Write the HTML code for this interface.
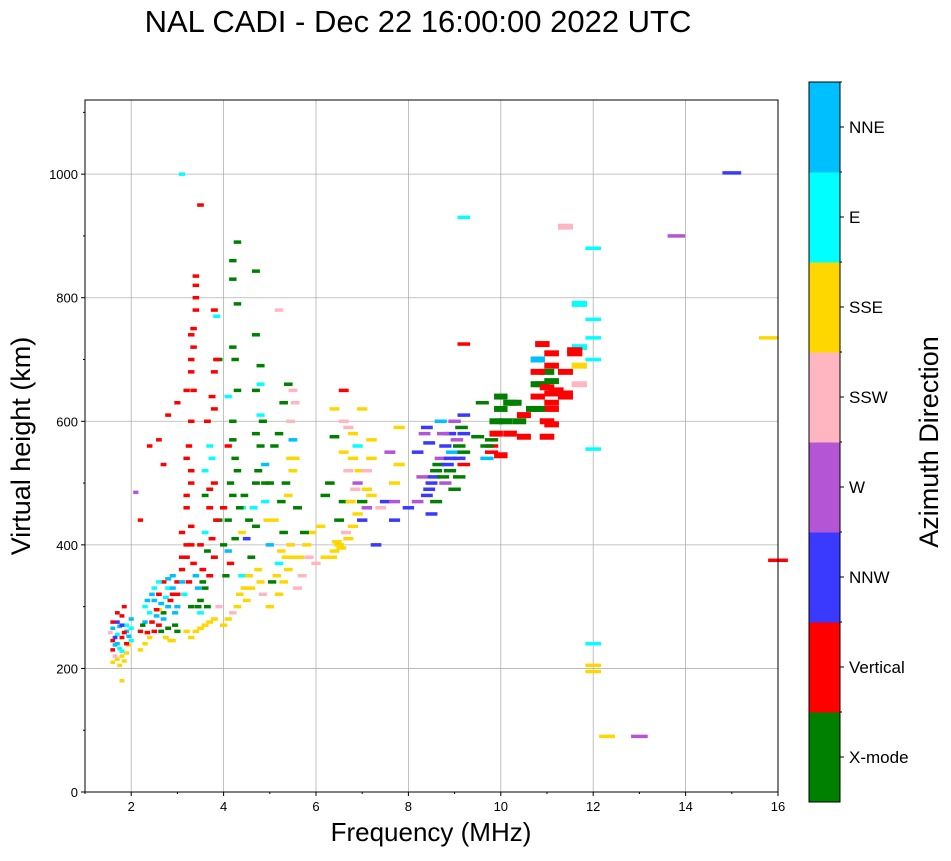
<!DOCTYPE html>
<html><head><meta charset="utf-8"><style>
body{margin:0;background:#fff;}
svg text{font-family:"Liberation Sans","DejaVu Sans",sans-serif;}
</style></head><body>
<svg id="chart" width="951" height="856" xmlns="http://www.w3.org/2000/svg">
<rect width="951" height="856" fill="#fff"/>
<text x="418" y="32" font-size="31" text-anchor="middle">NAL CADI - Dec 22 16:00:00 2022 UTC</text>
<g id="grid"></g>
<g id="marks"></g>
<rect x="85" y="100" width="693" height="692" fill="none" stroke="#000" stroke-width="1"/>
<g id="axes"></g>
<text x="431" y="841" font-size="26" text-anchor="middle">Frequency (MHz)</text>
<text transform="translate(30,446) rotate(-90)" font-size="27" text-anchor="middle">Virtual height (km)</text>
<g id="cbar"></g>
<text transform="translate(938,442) rotate(-90)" font-size="27" text-anchor="middle">Azimuth Direction</text>
</svg>
<script>
const dirLabels=["X-mode","Vertical","NNW","W","SSW","SSE","E","NNE"];
const dirColors=["#008000","#ff0000","#3a3aff","#b355d4","#ffb6c1","#ffd700","#00ffff","#00bfff"];
const xTicks=[2,4,6,8,10,12,14,16];
const yTicks=[0,200,400,600,800,1000];
const pts=("1.6,210,5;1.7,215,5;1.8,220,5;1.9,225,5;1.6,230,1;1.7,240,7;1.8,250,1;1.9,260,7;1.6,265,7;1.7,275,2;1.8,285,1;1.9,270,6;2.0,245,6;2.0,280,7;1.7,255,6;1.6,245,1;1.85,300,1;1.75,232,6;1.95,238,5;1.65,220,4;"+
"1.55,258,4;1.65,250,2;1.75,268,7;1.85,258,1;1.95,252,7;1.6,275,1;1.7,290,1;1.8,270,2;1.9,240,1;2.0,265,6;1.75,205,5;1.85,212,5;1.65,238,7;1.8,228,6;"+
"2.2,230,5;2.3,240,5;2.4,250,5;2.5,260,1;2.6,270,1;2.7,280,7;2.8,300,7;2.9,320,1;3.0,340,1;2.2,260,1;2.3,275,7;2.4,290,6;2.5,310,7;2.6,320,1;2.7,290,0;2.8,265,0;2.9,245,5;3.0,260,0;2.5,330,6;2.7,340,1;2.9,350,7;2.3,300,6;2.6,295,5;2.8,330,6;3.0,300,7;2.4,560,1;2.6,570,1;2.7,530,1;2.2,440,1;2.8,610,1;"+
"2.25,270,0;2.35,258,1;2.45,275,1;2.55,285,7;2.65,305,7;2.75,315,6;2.85,310,1;2.95,290,7;2.35,310,7;2.45,320,7;2.55,295,1;2.65,260,0;2.75,250,5;2.85,245,5;2.95,270,0;2.9,330,7;3.0,320,1;2.8,345,7;2.6,340,6;"+
"3.1,360,1;3.2,380,1;3.3,400,1;3.1,420,1;3.2,460,1;3.3,500,1;3.2,540,1;3.3,600,1;3.2,650,1;3.3,700,1;3.3,740,1;3.4,780,1;3.4,820,1;3.4,835,1;3.5,950,1;3.1,1000,6;3.2,260,5;3.3,250,5;3.4,260,5;3.5,265,5;3.6,270,5;3.7,275,5;3.8,280,5;3.3,300,0;3.5,310,0;3.6,330,0;3.7,350,1;3.8,380,1;3.6,420,6;3.7,460,1;3.8,500,1;3.7,560,6;3.8,620,1;3.8,680,1;3.8,780,1;3.4,350,7;3.5,400,1;3.6,520,6;3.9,700,0;3.9,440,0;3.5,290,6;3.9,300,4;"+
"3.1,380,1;3.2,400,1;3.3,430,1;3.2,480,1;3.3,520,1;3.25,560,1;3.35,650,1;3.3,680,1;3.35,720,1;3.35,750,1;3.4,800,1;3.1,340,7;3.15,320,6;3.25,340,1;3.35,370,1;3.45,330,7;3.55,360,1;3.65,390,0;3.75,410,1;3.85,440,1;3.7,490,1;3.6,480,0;3.75,540,6;3.65,600,1;3.75,640,1;3.85,700,1;3.85,770,6;3.45,300,0;3.55,340,0;3.65,300,0;"+
"4.0,270,5;4.1,280,5;4.2,290,4;4.3,300,5;4.5,310,5;4.6,330,5;4.8,340,5;4.0,400,0;4.1,440,0;4.2,480,0;4.3,520,0;4.2,600,0;4.2,720,0;4.3,790,0;4.3,890,0;4.2,860,0;4.2,830,0;4.1,390,7;4.4,350,6;4.6,380,0;4.7,430,0;4.7,500,0;4.7,580,0;4.7,650,0;4.7,740,0;4.7,843,0;4.4,460,6;4.5,410,2;4.8,690,0;4.9,470,6;4.9,530,7;4.8,610,6;4.1,640,6;4.1,560,1;4.0,460,1;4.4,420,5;"+
"4.05,350,0;4.15,370,1;4.25,410,0;4.15,500,0;4.25,540,0;4.2,570,0;4.3,650,0;4.25,700,0;4.35,460,0;4.45,480,0;4.55,440,0;4.65,460,6;4.75,520,0;4.8,560,0;4.85,600,0;4.8,660,6;4.9,500,0;4.95,440,5;4.35,320,5;4.45,330,5;4.55,350,5;4.75,360,5;4.85,320,4;"+
"5.0,300,5;5.2,320,5;5.3,340,5;5.4,360,5;5.5,380,5;5.6,330,4;5.7,350,4;5.1,560,0;5.2,580,0;5.0,400,7;5.3,420,0;5.4,480,5;5.5,520,5;5.5,570,7;5.5,650,4;5.4,660,0;5.1,440,5;5.2,370,6;5.8,400,5;5.9,420,5;5.0,500,0;5.3,630,0;5.6,460,0;5.2,780,4;"+
"5.05,340,0;5.15,350,5;5.25,390,5;5.35,380,5;5.45,400,5;5.55,540,5;5.45,600,4;5.55,630,4;5.25,470,0;5.35,500,0;5.45,540,5;5.65,380,5;5.75,420,0;5.85,380,4;"+
"6.0,370,4;6.2,380,5;6.4,390,5;6.5,400,5;6.7,410,5;6.8,430,5;6.9,450,5;6.5,440,0;6.6,470,0;6.7,520,4;6.8,540,5;6.6,600,4;6.6,650,1;6.4,620,5;6.9,560,6;6.3,500,0;6.2,480,0;6.9,500,3;6.1,430,5;6.8,580,5;6.4,575,0;7.0,620,5;"+
"6.45,405,5;6.55,395,5;6.65,420,4;6.75,470,5;6.85,490,4;6.95,520,5;6.6,550,5;6.7,590,4;6.35,380,5;"+
"7.0,440,2;7.1,460,3;7.2,480,5;7.1,520,4;7.2,540,5;7.4,460,4;7.5,470,2;7.7,470,3;7.7,440,2;7.8,530,5;7.7,500,5;7.3,400,2;7.6,550,3;7.8,590,5;7.1,490,5;7.2,570,5;7.0,470,0;"+
"8.0,460,2;8.2,470,3;8.4,480,2;8.5,500,2;8.6,520,0;8.7,540,3;8.8,560,2;8.9,580,2;8.4,590,2;8.6,470,0;8.8,500,3;8.9,520,0;8.5,450,2;8.3,510,3;8.7,600,7;8.9,540,2;8.2,550,2;"+
"8.45,490,2;8.55,510,2;8.65,530,0;8.75,510,0;8.85,530,2;8.95,550,7;8.45,565,2;8.35,580,3;8.75,580,3;"+
"9.0,490,0;9.1,510,0;9.2,530,1;9.1,560,0;9.2,580,2;9.0,600,3;9.2,610,2;9.7,540,7;9.8,560,1;9.9,580,1;9.8,570,0;9.9,600,0;10.0,620,0;10.0,640,0;9.6,630,0;9.2,725,1;9.2,930,6;9.5,575,0;10.0,545,1;"+
"9.1,540,2;9.15,590,0;9.05,570,3;9.2,550,0;9.7,560,0;9.8,550,1;10.1,600,0;10.2,630,0;"+
"10.2,580,1;10.4,600,0;10.5,610,1;10.7,620,0;10.8,640,1;10.9,660,1;11.0,680,0;11.1,710,1;11.0,600,1;11.1,620,1;11.2,650,1;11.4,640,1;11.4,680,1;11.6,710,1;11.7,720,6;11.7,660,4;10.8,700,7;10.9,725,1;10.5,575,1;11.7,690,5;10.3,630,0;11.0,575,1;"+
"10.8,620,0;10.8,660,0;10.8,680,1;11.1,595,1;11.1,630,1;11.1,645,1;11.1,665,0;11.1,690,1;11.4,645,1;11.6,715,1;11.0,655,1;"+
"12.0,880,6;12.0,765,6;12.0,735,6;12.0,700,6;12.0,555,6;12.0,240,6;12.0,205,5;12.0,195,5;12.3,90,5;13.0,90,3;13.8,900,3;15.0,1002,2;15.8,735,5;11.4,915,4;11.7,790,6;16.0,375,1;2.1,485,3;1.8,180,5;3.0,630,1").split(";").map(s=>s.split(",").map(Number));
const freqs=pts.map(p=>p[0]);
const heights=pts.map(p=>p[1]);
const dirs=pts.map(p=>p[2]);

const NS="http://www.w3.org/2000/svg";
const X0=85,X1=778,Y0=792,Y1=100,FMIN=1,FMAX=16,HMIN=0,HMAX=1120;
const xs=f=>X0+(f-FMIN)/(FMAX-FMIN)*(X1-X0);
const ys=h=>Y0-(h-HMIN)/(HMAX-HMIN)*(Y0-Y1);
function mk(tag,attrs,parent){const e=document.createElementNS(NS,tag);for(const k in attrs)e.setAttribute(k,attrs[k]);parent.appendChild(e);return e;}
const grid=document.getElementById('grid'),axes=document.getElementById('axes'),marks=document.getElementById('marks'),cbar=document.getElementById('cbar');
xTicks.forEach(t=>{const x=xs(t);
 const g=mk('line',{x1:x,x2:x,y1:Y1,y2:Y0,stroke:'#b0b0b0','stroke-width':0.8},grid);
 
 
 mk('line',{x1:x,x2:x,y1:Y0,y2:Y0+4,stroke:'#000'},axes);
 const tx=mk('text',{x:x,y:Y0+19,'font-size':13,'text-anchor':'middle'},axes);tx.textContent=t;
 
 
});
for(let t=1;t<=16;t+=2){const x=xs(t);mk('line',{x1:x,x2:x,y1:Y0,y2:Y0+2,stroke:'#000'},axes);}
yTicks.forEach(t=>{const y=ys(t);
 const g=mk('line',{x1:X0,x2:X1,y1:y,y2:y,stroke:'#b0b0b0','stroke-width':0.8},grid);
 
 
 mk('line',{x1:X0-4,x2:X0,y1:y,y2:y,stroke:'#000'},axes);
 const tx=mk('text',{x:X0-7,y:y+5,'font-size':13,'text-anchor':'end'},axes);tx.textContent=t;
 
 
});
for(let t=100;t<=1100;t+=200){const y=ys(t);mk('line',{x1:X0-2,x2:X0,y1:y,y2:y,stroke:'#000'},axes);}
for(let i=0;i<freqs.length;i++){
 const f=freqs[i],h=heights[i];const w=3+f*1.05,hh=f>9.8&&f<11.8?6:3.5;
 const r=mk('rect',{x:xs(f)-w/2,y:ys(h)-hh/2,width:w,height:hh,fill:dirColors[dirs[i]]},marks);
 
 
}
const CX=809,CW=31,CT=82,CB=802,seg=(CB-CT)/dirLabels.length;
dirLabels.forEach((lab,i)=>{const y=CB-(i+1)*seg;
 const r=mk('rect',{x:CX,y:y,width:CW,height:seg+0.5,fill:dirColors[i]},cbar);
 
 
 mk('line',{x1:CX+CW,x2:CX+CW+4,y1:y+seg/2,y2:y+seg/2,stroke:'#000'},cbar);
 mk('line',{x1:CX+CW,x2:CX+CW+2,y1:y,y2:y,stroke:'#000'},cbar);
 const t=mk('text',{x:CX+CW+9,y:y+seg/2+6,'font-size':17},cbar);t.textContent=lab;
 
 
});
mk('rect',{x:CX,y:CT,width:CW,height:CB-CT,fill:'none',stroke:'#000'},cbar);
</script>
</body></html>
